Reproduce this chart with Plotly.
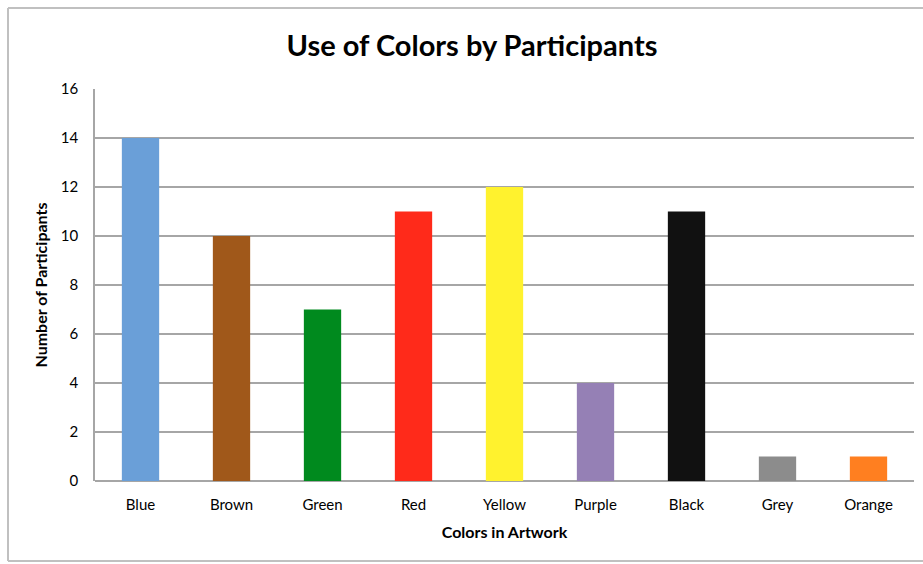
import plotly.graph_objects as go

categories = ["Blue", "Brown", "Green", "Red", "Yellow", "Purple", "Black", "Grey", "Orange"]
values = [14, 10, 7, 11, 12, 4, 11, 1, 1]
bar_colors = ["#6a9fd8", "#a0581a", "#008a1e", "#ff2a1a", "#fff22e",
              "#9580b5", "#111111", "#8c8c8c", "#ff7f20"]
y_ticks = [0, 2, 4, 6, 8, 10, 12, 14, 16]

font_family = "Lato, 'Open Sans', sans-serif"

fig = go.Figure(go.Bar(
    x=categories, y=values, marker_color=bar_colors, marker_line_width=0,
))

W, H = 923, 564
L, R, T, B = 95, 9, 89, 83
pw = W - L - R
ph = H - T - B

def px_x(p):
    return (p - L) / pw

def px_y(p):
    return (H - B - p) / ph

border = dict(color="#c0c0c0", width=2)
xl, xr, yt, yb = px_x(8), px_x(1100), px_y(8), px_y(561)

fig.update_layout(
    width=W, height=H,
    margin=dict(l=L, r=R, t=T, b=B),
    paper_bgcolor="white", plot_bgcolor="white",
    bargap=0.59,
    showlegend=False,
    font=dict(family=font_family, color="#000000"),
    title=dict(text="<b>Use of Colors by Participants</b>", x=px_x(472), xref="paper",
               xanchor="center", y=1 - 46 / H, yanchor="middle",
               font=dict(size=29, family=font_family, color="#000")),
    xaxis=dict(
        title=dict(text="<b>Colors in Artwork</b>", font=dict(size=16), standoff=14),
        tickfont=dict(size=15), showgrid=False, showline=False, ticks="",
        ticklabelstandoff=13,
    ),
    yaxis=dict(
        title=dict(text="<b>Number of Participants</b>", font=dict(size=16), standoff=9),
        range=[0, 16], tickvals=y_ticks, tickfont=dict(size=15),
        showgrid=True, gridcolor="#a6a6a6", gridwidth=1.5,
        showline=True, linecolor="#a6a6a6", linewidth=1.5,
        zeroline=True, zerolinecolor="#a6a6a6", zerolinewidth=1.5,
        ticks="", ticklabelstandoff=12,
    ),
    shapes=[
        dict(type="line", xref="paper", yref="paper", x0=xl, x1=xl, y0=yb, y1=yt, line=border, layer="below"),
        dict(type="line", xref="paper", yref="paper", x0=xl, x1=xr, y0=yt, y1=yt, line=border, layer="below"),
        dict(type="line", xref="paper", yref="paper", x0=xl, x1=xr, y0=yb, y1=yb, line=border, layer="below"),
    ],
)

fig.write_html("out.html")
